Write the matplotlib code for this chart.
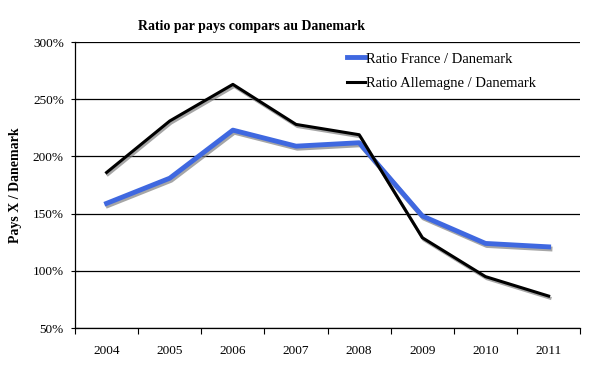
import matplotlib
matplotlib.use("Agg")
import matplotlib.pyplot as plt
import matplotlib.patheffects as pe
from matplotlib.lines import Line2D
import numpy as np
from matplotlib.ticker import FuncFormatter

years = ["2004", "2005", "2006", "2007", "2008", "2009", "2010", "2011"]
france = [159, 181, 223, 209, 212, 148, 124, 121]
allemagne = [186, 231, 263, 228, 219, 129, 95, 78]

plt.rcParams['font.family'] = ['Liberation Serif', 'DejaVu Serif']

fig = plt.figure(figsize=(6.05, 3.72), dpi=100)
ax = fig.add_axes([0.124, 0.118, 0.835, 0.769])

x = np.arange(len(years))
shadow = [pe.SimpleLineShadow(offset=(1, -1.5), shadow_color='gray', alpha=0.7), pe.Normal()]
ax.plot(x, france, color='#3f68e0', lw=3.5, path_effects=shadow, zorder=3)
ax.plot(x, allemagne, color='black', lw=2.2, path_effects=shadow, zorder=4)

ax.set_xlim(-0.5, len(years) - 0.5)
ax.set_ylim(50, 300)
ax.set_yticks(np.arange(50, 301, 50))
ax.yaxis.set_major_formatter(FuncFormatter(lambda v, p: "%d%%" % v))
ax.set_xticks(x)
ax.set_xticklabels(years)
ax.set_xticks(np.arange(-0.5, len(years), 1), minor=True)
ax.tick_params(axis='x', which='major', length=0, labelsize=9.5, pad=12)
ax.tick_params(axis='x', which='minor', length=4, width=0.8, direction='out')
ax.tick_params(axis='y', length=6, width=0.8, direction='inout', labelsize=9.5, pad=5)
ax.grid(axis='y', color='black', lw=0.9)
ax.set_axisbelow(True)
for s in ['top', 'right']:
    ax.spines[s].set_visible(False)
ax.spines['left'].set_linewidth(0.9)
ax.spines['bottom'].set_linewidth(0.9)

fig.text(0.415, 0.93, "Ratio par pays compars au Danemark", fontsize=10,
         fontweight='bold', ha='center', va='center')
ax.set_ylabel("Pays X / Danemark", fontsize=10, fontweight='bold', labelpad=8)

h1 = Line2D([], [], color='#3f68e0', lw=3.5)
h2 = Line2D([], [], color='black', lw=2.2)
ax.legend([h1, h2], ["Ratio France / Danemark", "Ratio Allemagne / Danemark"],
          loc='upper left', bbox_to_anchor=(0.513, 1.01), frameon=False, fontsize=10.5,
          handlelength=1.2, handletextpad=0.05, labelspacing=0.75)

fig.savefig("out.png", dpi=100)
